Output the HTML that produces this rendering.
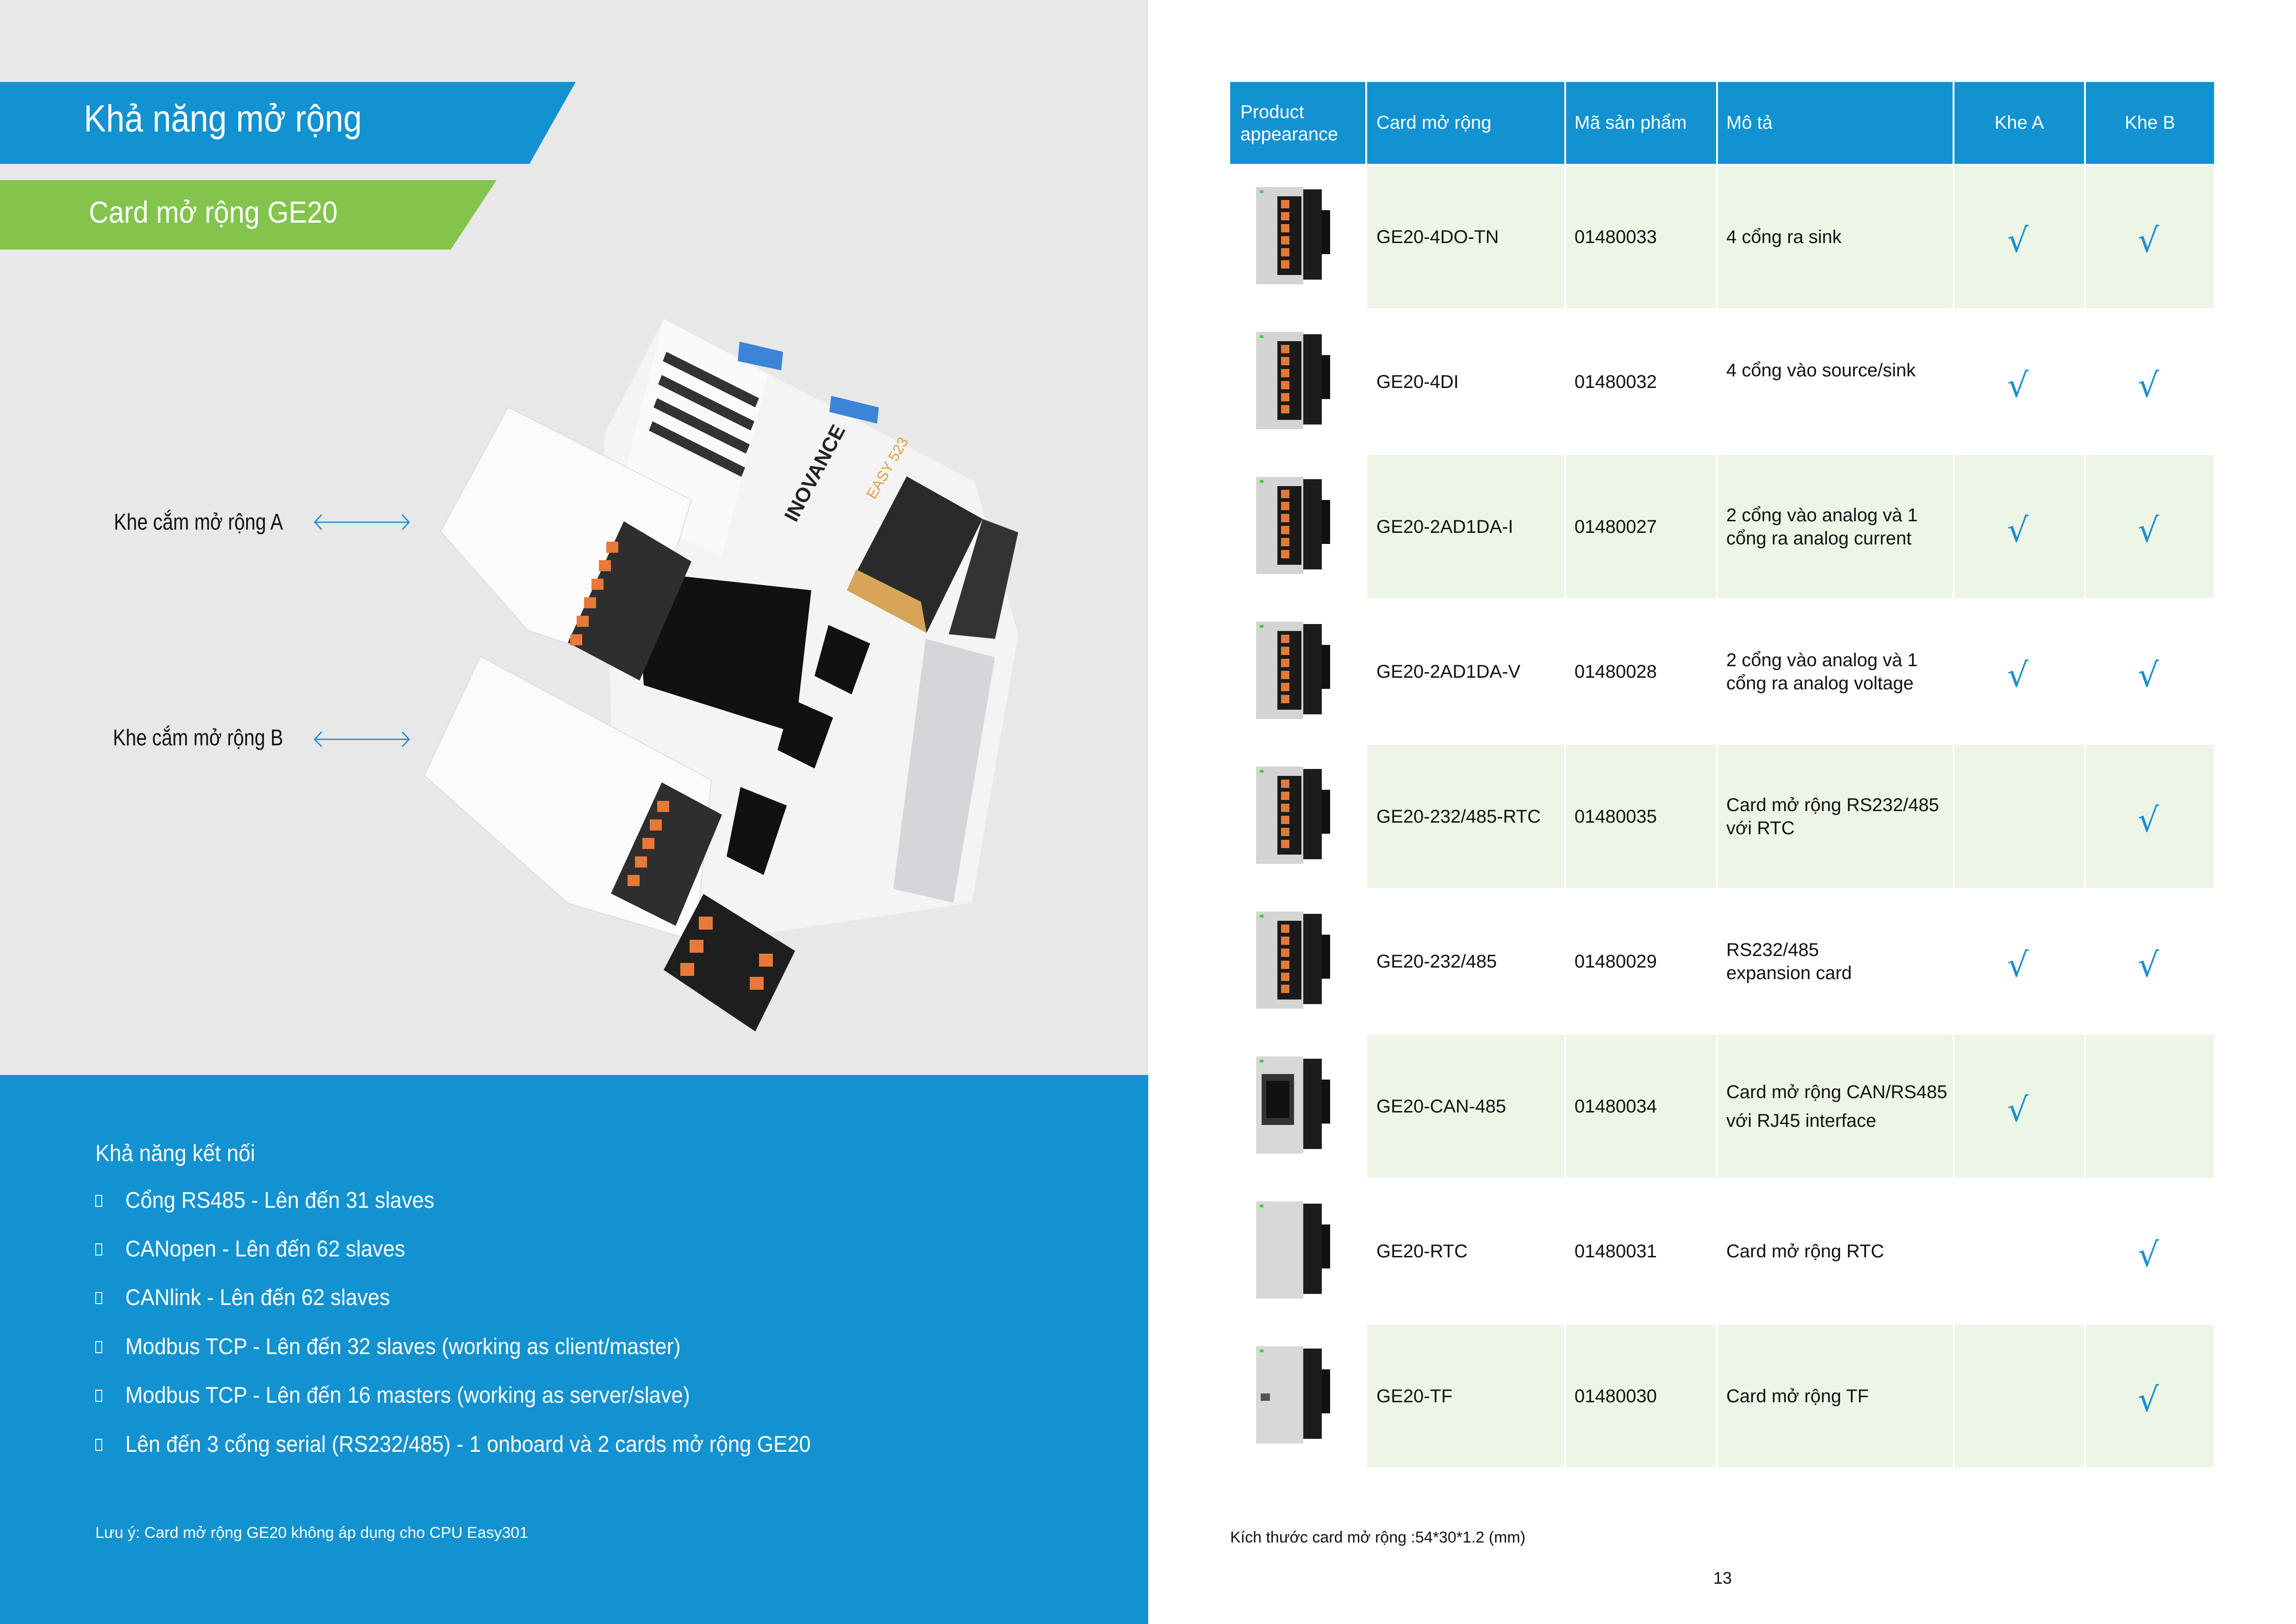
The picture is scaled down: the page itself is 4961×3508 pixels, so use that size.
<!DOCTYPE html>
<html><head><meta charset="utf-8">
<style>
*{margin:0;padding:0;box-sizing:border-box}
body{width:4961px;height:3508px;position:relative;overflow:hidden;background:#fff;font-family:"Liberation Sans Narrow","Liberation Sans",sans-serif}
.a{position:absolute;white-space:nowrap}
.hd{position:absolute;top:177px;height:177px;background:#1292d0;color:#fff;font-size:40px;display:flex;align-items:center}
.cell{position:absolute;height:309px;display:flex;align-items:center;font-size:40px;color:#111;line-height:50px}
.g{background:#edf5e6}
.ck{position:absolute;color:#1a8fd0;font-size:72px;font-family:"DejaVu Sans",sans-serif;width:100px;text-align:center}
.bl{position:absolute;left:206px;color:#fff;font-size:49px;white-space:nowrap;transform:scaleX(0.925);transform-origin:0 0}
.bx{display:inline-block;width:16px;height:26px;border:2px solid #fff;margin-right:54px;vertical-align:2px;position:relative}
.sx{transform-origin:0 0}
</style></head><body>
<div class="a" style="left:0;top:0;width:2481px;height:2322px;background:#e8e8e8"></div>
<div class="a" style="left:0;top:2322px;width:2481px;height:1186px;background:#1292d0"></div>

<svg class="a" style="left:0;top:0" width="2481" height="2322">
<polygon points="0,177 1244,177 1144,354 0,354" fill="#1292d0"/>
<polygon points="0,389 1073,389 974,539 0,539" fill="#82c44c"/>
<g stroke="#2a8fd6" stroke-width="3" fill="none">
<line x1="680" y1="1128" x2="884" y2="1128"/><polyline points="695,1112 680,1128 695,1144"/><polyline points="869,1112 884,1128 869,1144"/>
<line x1="680" y1="1597" x2="884" y2="1597"/><polyline points="695,1581 680,1597 695,1613"/><polyline points="869,1581 884,1597 869,1613"/>
</g>
<!-- device -->
<polygon points="1434,689 2106,1040 2200,1370 2100,1950 1560,2030 1330,1960 1305,940" fill="#f4f4f4"/>
<polygon points="1434,689 1660,810 1560,1200 1330,1100" fill="#fafafa"/>
<g fill="#333">
<polygon points="1440,760 1640,860 1632,880 1432,780"/>
<polygon points="1430,810 1630,910 1622,930 1422,830"/>
<polygon points="1420,860 1620,960 1612,980 1412,880"/>
<polygon points="1410,910 1610,1010 1602,1030 1402,930"/>
</g>
<polygon points="1598,738 1692,760 1688,800 1594,780" fill="#3b84d8"/>
<polygon points="1796,855 1899,880 1895,915 1792,890" fill="#3b84d8"/>
<polygon points="1830,1275 1959,1029 2123,1121 2002,1367" fill="#2a2a2a"/>
<polygon points="1830,1275 1850,1230 1990,1300 2002,1367" fill="#d6a55a"/>
<text x="1890" y="1080" font-size="32" fill="#e0a040" font-family="Liberation Sans" transform="rotate(-60 1890 1080)">EASY 523</text>
<text x="1720" y="1130" font-size="44" fill="#222" font-family="Liberation Sans" font-weight="bold" transform="rotate(-62 1720 1130)">INOVANCE</text>
<polygon points="2123,1121 2200,1150 2150,1380 2050,1370" fill="#333"/>
<polygon points="1374,1234 1753,1275 1718,1583 1391,1480" fill="#111"/>
<polygon points="1790,1350 1880,1390 1840,1500 1760,1460" fill="#111"/>
<polygon points="1710,1510 1800,1550 1760,1660 1680,1620" fill="#111"/>
<polygon points="1600,1700 1700,1740 1650,1890 1570,1850" fill="#111"/>
<polygon points="2000,1380 2150,1420 2060,1950 1930,1920" fill="#d4d6da"/>
<polygon points="952,1148 1098,880 1494,1080 1382,1440 1141,1362" fill="#fbfbfb" stroke="#ddd" stroke-width="2"/>
<polygon points="1227,1388 1348,1126 1494,1213 1382,1470" fill="#2e2e2e"/>
<polygon points="917,1675 1038,1418 1537,1685 1503,2033 1227,1951" fill="#fbfbfb" stroke="#ddd" stroke-width="2"/>
<polygon points="1320,1930 1430,1690 1560,1760 1460,2000" fill="#2e2e2e"/>
<polygon points="1434,2095 1520,1931 1718,2054 1632,2228" fill="#1e1e1e"/>
<g fill="#e8793a">
<rect x="1310" y="1170" width="26" height="24"/><rect x="1294" y="1210" width="26" height="24"/><rect x="1278" y="1250" width="26" height="24"/><rect x="1262" y="1290" width="26" height="24"/><rect x="1246" y="1330" width="26" height="24"/><rect x="1232" y="1370" width="26" height="24"/>
<rect x="1420" y="1730" width="26" height="24"/><rect x="1404" y="1770" width="26" height="24"/><rect x="1388" y="1810" width="26" height="24"/><rect x="1372" y="1850" width="26" height="24"/><rect x="1356" y="1890" width="26" height="24"/>
<rect x="1510" y="1980" width="30" height="28"/><rect x="1490" y="2030" width="30" height="28"/><rect x="1470" y="2080" width="30" height="28"/><rect x="1640" y="2060" width="30" height="28"/><rect x="1620" y="2110" width="30" height="28"/>
</g>
</svg>

<div class="a sx" style="left:181px;top:210px;font-size:82px;color:#fff;transform:scaleX(0.88)">Khả năng mở rộng</div>
<div class="a sx" style="left:192px;top:420px;font-size:66px;color:#fff;transform:scaleX(0.9)">Card mở rộng GE20</div>
<div class="a sx" style="left:246px;top:1100px;font-size:49px;color:#111;transform:scaleX(0.84)">Khe cắm mở rộng A</div>
<div class="a sx" style="left:244px;top:1566px;font-size:49px;color:#111;transform:scaleX(0.84)">Khe cắm mở rộng B</div>

<div class="a sx" style="left:206px;top:2462px;font-size:50px;color:#fff;transform:scaleX(0.92)">Khả năng kết nối</div>
<div class="bl" style="top:2565px"><span class="bx"></span>Cổng RS485 - Lên đến 31 slaves</div>
<div class="bl" style="top:2670px"><span class="bx"></span>CANopen - Lên đến 62 slaves</div>
<div class="bl" style="top:2775px"><span class="bx"></span>CANlink - Lên đến 62 slaves</div>
<div class="bl" style="top:2881px"><span class="bx"></span>Modbus TCP - Lên đến 32 slaves (working as client/master)</div>
<div class="bl" style="top:2986px"><span class="bx"></span>Modbus TCP - Lên đến 16 masters (working  as server/slave)</div>
<div class="bl" style="top:3092px"><span class="bx"></span>Lên đến 3 cổng serial (RS232/485) - 1 onboard và 2 cards mở rộng GE20</div>
<div class="a" style="left:206px;top:3292px;font-size:34px;color:#fff">Lưu ý: Card mở rộng GE20 không áp dụng cho CPU Easy301</div>

<!-- table header -->
<div class="hd" style="left:2658px;width:292px;padding-left:22px;line-height:48px">Product<br>appearance</div>
<div class="hd" style="left:2954px;width:426px;padding-left:20px">Card mở rộng</div>
<div class="hd" style="left:3384px;width:324px;padding-left:18px">Mã sản phẩm</div>
<div class="hd" style="left:3712px;width:507px;padding-left:18px">Mô tả</div>
<div class="hd" style="left:4223px;width:280px;justify-content:center">Khe A</div>
<div class="hd" style="left:4507px;width:277px;justify-content:center">Khe B</div>

<svg width="0" height="0" style="position:absolute">
<defs>
<g id="th">
<rect x="0" y="10" width="102" height="210" fill="#d4d4d4"/>
<rect x="102" y="15" width="40" height="195" fill="#1c1c1c"/>
<rect x="142" y="60" width="18" height="95" fill="#111"/>
<rect x="46" y="30" width="52" height="170" fill="#1a1a1a"/>
<g fill="#e07a3a"><rect x="54" y="38" width="18" height="18"/><rect x="54" y="64" width="18" height="18"/><rect x="54" y="90" width="18" height="18"/><rect x="54" y="116" width="18" height="18"/><rect x="54" y="142" width="18" height="18"/><rect x="54" y="168" width="18" height="18"/></g>
<rect x="8" y="17" width="8" height="6" fill="#4c4"/>
</g>
<g id="tp">
<rect x="0" y="10" width="102" height="210" fill="#d8d8d8"/>
<rect x="102" y="15" width="40" height="195" fill="#1c1c1c"/>
<rect x="142" y="60" width="18" height="95" fill="#111"/>
<rect x="8" y="17" width="8" height="6" fill="#4c4"/>
</g>
</defs>
</svg>

<!-- rows -->
<div class="cell g" style="left:2954px;top:357px;width:426px;padding-left:20px">GE20-4DO-TN</div>
<div class="cell g" style="left:3384px;top:357px;width:324px;padding-left:18px">01480033</div>
<div class="cell g" style="left:3712px;top:357px;width:507px;padding-left:18px">4 cổng ra sink</div>
<div class="cell g" style="left:4223px;top:357px;width:280px"></div>
<div class="cell g" style="left:4507px;top:357px;width:277px"></div>

<div class="cell" style="left:2954px;top:670px;width:426px;padding-left:20px">GE20-4DI</div>
<div class="cell" style="left:3384px;top:670px;width:324px;padding-left:18px">01480032</div>
<div class="cell" style="left:3712px;top:645px;width:507px;padding-left:18px">4 cổng vào source/sink</div>

<div class="cell g" style="left:2954px;top:983px;width:426px;padding-left:20px">GE20-2AD1DA-I</div>
<div class="cell g" style="left:3384px;top:983px;width:324px;padding-left:18px">01480027</div>
<div class="cell g" style="left:3712px;top:983px;width:507px;padding-left:18px">2 cổng vào analog và 1<br>cổng ra analog current</div>
<div class="cell g" style="left:4223px;top:983px;width:280px"></div>
<div class="cell g" style="left:4507px;top:983px;width:277px"></div>

<div class="cell" style="left:2954px;top:1296px;width:426px;padding-left:20px">GE20-2AD1DA-V</div>
<div class="cell" style="left:3384px;top:1296px;width:324px;padding-left:18px">01480028</div>
<div class="cell" style="left:3712px;top:1296px;width:507px;padding-left:18px">2 cổng vào analog và 1<br>cổng ra analog voltage</div>

<div class="cell g" style="left:2954px;top:1609px;width:426px;padding-left:20px">GE20-232/485-RTC</div>
<div class="cell g" style="left:3384px;top:1609px;width:324px;padding-left:18px">01480035</div>
<div class="cell g" style="left:3712px;top:1609px;width:507px;padding-left:18px">Card mở rộng RS232/485<br>với RTC</div>
<div class="cell g" style="left:4223px;top:1609px;width:280px"></div>
<div class="cell g" style="left:4507px;top:1609px;width:277px"></div>

<div class="cell" style="left:2954px;top:1922px;width:426px;padding-left:20px">GE20-232/485</div>
<div class="cell" style="left:3384px;top:1922px;width:324px;padding-left:18px">01480029</div>
<div class="cell" style="left:3712px;top:1922px;width:507px;padding-left:18px">RS232/485<br>expansion card</div>

<div class="cell g" style="left:2954px;top:2235px;width:426px;padding-left:20px">GE20-CAN-485</div>
<div class="cell g" style="left:3384px;top:2235px;width:324px;padding-left:18px">01480034</div>
<div class="cell g" style="left:3712px;top:2235px;width:507px;padding-left:18px;line-height:62px">Card mở rộng CAN/RS485<br>với RJ45 interface</div>
<div class="cell g" style="left:4223px;top:2235px;width:280px"></div>
<div class="cell g" style="left:4507px;top:2235px;width:277px"></div>

<div class="cell" style="left:2954px;top:2548px;width:426px;padding-left:20px">GE20-RTC</div>
<div class="cell" style="left:3384px;top:2548px;width:324px;padding-left:18px">01480031</div>
<div class="cell" style="left:3712px;top:2548px;width:507px;padding-left:18px">Card mở rộng RTC</div>

<div class="cell g" style="left:2954px;top:2861px;width:426px;padding-left:20px">GE20-TF</div>
<div class="cell g" style="left:3384px;top:2861px;width:324px;padding-left:18px">01480030</div>
<div class="cell g" style="left:3712px;top:2861px;width:507px;padding-left:18px">Card mở rộng TF</div>
<div class="cell g" style="left:4223px;top:2861px;width:280px"></div>
<div class="cell g" style="left:4507px;top:2861px;width:277px"></div>

<!-- thumbnails -->
<svg class="a" style="left:2714px;top:0" width="170" height="3508">
<use href="#th" y="394"/><use href="#th" y="707"/><use href="#th" y="1020"/><use href="#th" y="1333"/><use href="#th" y="1646"/><use href="#th" y="1959"/>
<use href="#tp" y="2272"/><rect x="12" y="2320" width="70" height="110" fill="#333"/><rect x="22" y="2335" width="50" height="80" fill="#111"/>
<use href="#tp" y="2585"/>
<use href="#tp" y="2898"/><rect x="10" y="3010" width="20" height="16" fill="#555"/>
</svg>

<!-- checks -->
<div class="ck" style="left:4310px;top:477px">√</div><div class="ck" style="left:4592px;top:477px">√</div>
<div class="ck" style="left:4310px;top:790px">√</div><div class="ck" style="left:4592px;top:790px">√</div>
<div class="ck" style="left:4310px;top:1103px">√</div><div class="ck" style="left:4592px;top:1103px">√</div>
<div class="ck" style="left:4310px;top:1416px">√</div><div class="ck" style="left:4592px;top:1416px">√</div>
<div class="ck" style="left:4592px;top:1729px">√</div>
<div class="ck" style="left:4310px;top:2042px">√</div><div class="ck" style="left:4592px;top:2042px">√</div>
<div class="ck" style="left:4310px;top:2355px">√</div>
<div class="ck" style="left:4592px;top:2668px">√</div>
<div class="ck" style="left:4592px;top:2981px">√</div>

<div class="a" style="left:2658px;top:3302px;font-size:34px;color:#111">Kích thước card mở rộng :54*30*1.2 (mm)</div>
<div class="a" style="left:3702px;top:3388px;font-size:36px;color:#111">13</div>
</body></html>
